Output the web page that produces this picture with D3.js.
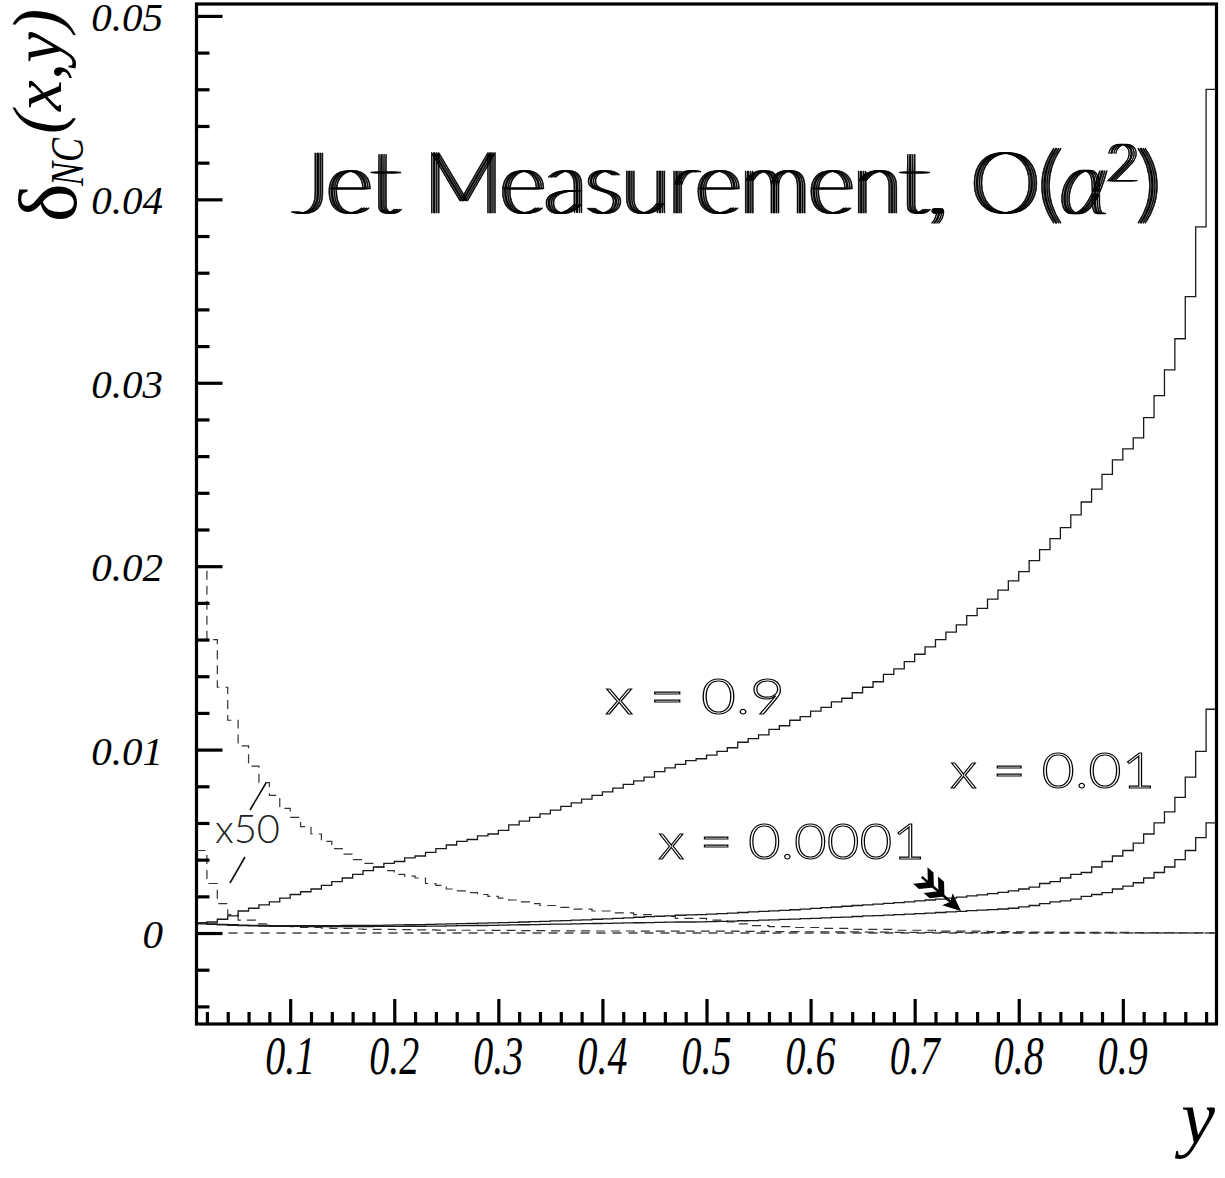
<!DOCTYPE html>
<html>
<head>
<meta charset="utf-8">
<script src="https://cdn.jsdelivr.net/npm/d3@7"></script>
<style>
  body { margin: 0; background: #fff; }
</style>
</head>
<body>
<script>
// histogram bin edges: 98 bins of width 0.01 between y = 0.01 and y = 0.99
const binEdges = d3.range(1, 100).map(k => k / 100);

const xTickLabels = ['0.1', '0.2', '0.3', '0.4', '0.5', '0.6', '0.7', '0.8', '0.9'];
const yTickLabels = ['0', '0.01', '0.02', '0.03', '0.04', '0.05'];

// x = 0.9 (solid)
const curveX09 = [
  0.00055, 0.0006, 0.00075, 0.00093, 0.0012, 0.00135, 0.00153, 0.0017, 0.0019, 0.0021,
  0.00225, 0.0024, 0.0026, 0.0028, 0.0030, 0.0032, 0.0034, 0.0036, 0.0038, 0.0039,
  0.0041, 0.0042, 0.0044, 0.0046, 0.0048, 0.0050, 0.0051, 0.0053, 0.0054, 0.0056,
  0.0059, 0.0061, 0.0063, 0.0065, 0.0067, 0.0069, 0.0071, 0.0073, 0.0075, 0.0077,
  0.0079, 0.0081, 0.0083, 0.0085, 0.0088, 0.0090, 0.0092, 0.0094, 0.0095, 0.0097,
  0.0099, 0.0101, 0.0104, 0.0106, 0.0108, 0.0111, 0.0113, 0.0116, 0.0118, 0.0121,
  0.0123, 0.0126, 0.0128, 0.0131, 0.0134, 0.0137, 0.0141, 0.0144, 0.0148, 0.0152,
  0.0156, 0.0160, 0.0164, 0.0168, 0.0173, 0.0177, 0.0182, 0.0187, 0.0192, 0.0197,
  0.0203, 0.0209, 0.0215, 0.0221, 0.0228, 0.0235, 0.0242, 0.0250, 0.0258, 0.0264,
  0.0270, 0.0281, 0.0293, 0.0307, 0.0324, 0.0347, 0.0385, 0.0460
];

// x = 0.01 (solid)
const curveX001 = [
  0.00055, 0.0005, 0.00047, 0.00045, 0.00043, 0.00042, 0.00041, 0.0004, 0.0004, 0.0004,
  0.0004, 0.0004, 0.0004, 0.0004, 0.00041, 0.00041, 0.00042, 0.00042, 0.00043, 0.00044,
  0.00045, 0.00046, 0.00047, 0.00048, 0.0005, 0.00051, 0.00052, 0.00054, 0.00055, 0.00057,
  0.00058, 0.0006, 0.00062, 0.00064, 0.00066, 0.00068, 0.0007, 0.00072, 0.00075, 0.00077,
  0.0008, 0.00083, 0.00086, 0.00089, 0.00092, 0.00094, 0.00097, 0.00099, 0.0010, 0.00103,
  0.00106, 0.00109, 0.00112, 0.00115, 0.00118, 0.00121, 0.00124, 0.00127, 0.0013, 0.00134,
  0.00138, 0.00142, 0.00146, 0.0015, 0.00154, 0.00158, 0.00162, 0.00166, 0.0017, 0.00175,
  0.0018, 0.00185, 0.0019, 0.00196, 0.00202, 0.00208, 0.00215, 0.00222, 0.0023, 0.0024,
  0.0025, 0.0027, 0.0028, 0.0030, 0.0032, 0.0033, 0.0036, 0.0039, 0.0042, 0.0045,
  0.0049, 0.0054, 0.0060, 0.0066, 0.0074, 0.0085, 0.0099, 0.0122
];

// x = 0.0001 (solid)
const curveX00001 = [
  0.0005, 0.00047, 0.00044, 0.00042, 0.0004, 0.00039, 0.00038, 0.00037, 0.00036, 0.00036,
  0.00035, 0.00035, 0.00035, 0.00035, 0.00035, 0.00035, 0.00035, 0.00036, 0.00036, 0.00036,
  0.00037, 0.00037, 0.00038, 0.00038, 0.00039, 0.0004, 0.0004, 0.00041, 0.00042, 0.00043,
  0.00044, 0.00045, 0.00046, 0.00047, 0.00048, 0.00049, 0.0005, 0.00051, 0.00052, 0.00053,
  0.00054, 0.00055, 0.00056, 0.00057, 0.00058, 0.00059, 0.0006, 0.0006, 0.00061, 0.00062,
  0.00063, 0.00065, 0.00067, 0.00068, 0.0007, 0.00072, 0.00074, 0.00076, 0.00078, 0.0008,
  0.00083, 0.00085, 0.00087, 0.0009, 0.00093, 0.00095, 0.00098, 0.0010, 0.00103, 0.00106,
  0.00109, 0.00112, 0.00115, 0.00118, 0.00122, 0.00125, 0.00128, 0.00131, 0.00135, 0.00143,
  0.0015, 0.0016, 0.0017, 0.00175, 0.00185, 0.0020, 0.0021, 0.0022, 0.0024, 0.00256,
  0.00274, 0.0030, 0.0033, 0.0036, 0.0040, 0.0045, 0.0052, 0.0060
];

// dashed, scaled x50 (upper one)
const dashUpperX50 = [
  0.0200, 0.0160, 0.0134, 0.0116, 0.0102, 0.0091, 0.0082, 0.0075, 0.0068, 0.0063,
  0.0058, 0.0054, 0.0050, 0.0046, 0.0043, 0.0040, 0.0038, 0.0036, 0.0034, 0.0032,
  0.0031, 0.0030, 0.0027, 0.0026, 0.0024, 0.0023, 0.0022, 0.0021, 0.0020, 0.0019,
  0.0018, 0.0017, 0.0016, 0.0015, 0.0015, 0.0014, 0.0013, 0.0013, 0.0012, 0.0012,
  0.0011, 0.0011, 0.0010, 0.0010, 0.0009, 0.0009, 0.0008, 0.0008, 0.0008, 0.0007,
  0.0007, 0.0006, 0.0005, 0.0004, 0.0004, 0.00035, 0.00035, 0.0003, 0.0003, 0.0003,
  0.00025, 0.00025, 0.00025, 0.0002, 0.0002, 0.0002, 0.0002, 0.00015, 0.00015, 0.00015,
  0.00015, 0.0001, 0.0001, 0.0001, 0.0001, 0.0001, 0.00008, 0.00008, 0.00006, 0.00006,
  0.00005, 0.00005, 0.00005, 0.00004, 0.00004, 0.00004, 0.00003, 0.00003, 0.00003, 0.00003,
  0.00002, 0.00002, 0.00002, 0.00002, 0.00001, 0.00001, 0.00001, 0.00001
];

// dashed, scaled x50 (lower one)
const dashLowerX50 = [
  0.0045, 0.0027, 0.0016, 0.0010, 0.0007, 0.0007, 0.0005, 0.0004, 0.0004, 0.00035,
  0.0003, 0.0003, 0.00027, 0.00025, 0.00025, 0.00022, 0.0002, 0.0002, 0.0002, 0.00018,
  0.00018, 0.00017, 0.00017, 0.00016, 0.00016, 0.00015, 0.00015, 0.00015, 0.00014, 0.00014,
  0.00014, 0.00013, 0.00013, 0.00013, 0.00012, 0.00012, 0.00012, 0.00012, 0.00011, 0.00011,
  0.00011, 0.00011, 0.0001, 0.0001, 0.0001, 0.0001, 0.0001, 0.0001, 0.0001, 0.0001,
  0.0001, 0.0001, 0.00009, 0.00009, 0.00009, 0.00008, 0.00008, 0.00008, 0.00007, 0.00007,
  0.00007, 0.00006, 0.00006, 0.00006, 0.00005, 0.00005, 0.00005, 0.00004, 0.00004, 0.00004,
  0.00003, 0.00003, 0.00003, 0.00003, 0.00002, 0.00002, 0.00002, 0.00002, 0.00002, 0.00001,
  0.00001, 0.00001, 0.00001, 0.00001, 0.00001, 0.00001, 0.00001, 0.00001, 0, 0,
  0, 0, 0, 0, 0, 0, 0, 0
];

const curveLabels = [
  { text: 'x = 0.9', x: 605, y: 714, len: 180 },
  { text: 'x = 0.01', x: 950, y: 788, len: 205 },
  { text: 'x = 0.0001', x: 658, y: 859, len: 267 }
];

const width = 1225;
const height = 1178;
const plotLeft = 196.5, plotRight = 1216.5, plotTop = 4, plotBottom = 1024;

const svg = d3.select('body')
  .append('svg')
  .attr('width', width)
  .attr('height', height);

const x = d3.scaleLinear().domain([0.01, 0.99]).range([plotLeft, plotRight]);
const y = d3.scaleLinear().domain([-0.00496, 0.05065]).range([plotBottom, plotTop]);

const defs = svg.append('defs');
defs.append('clipPath')
  .attr('id', 'plot-clip')
  .append('rect')
  .attr('x', plotLeft + 1.5)
  .attr('y', plotTop + 1.5)
  .attr('width', plotRight - plotLeft - 3)
  .attr('height', plotBottom - plotTop - 3);

// repeat a glyph run a few times side by side (hatched look of the title)
const hatch = defs.append('filter')
  .attr('id', 'hatch')
  .attr('x', '-5%').attr('y', '-20%')
  .attr('width', '110%').attr('height', '140%');
const hatchSteps = [1.7, 3.4, 5.1, 6.8];
hatchSteps.forEach((dx, i) => {
  hatch.append('feOffset').attr('in', 'SourceGraphic').attr('dx', dx).attr('dy', 0).attr('result', 'o' + i);
});
const merge = hatch.append('feMerge');
merge.append('feMergeNode').attr('in', 'SourceGraphic');
hatchSteps.forEach((dx, i) => merge.append('feMergeNode').attr('in', 'o' + i));

const plot = svg.append('g').attr('clip-path', 'url(#plot-clip)');

// step line for a histogram
function histPath(values) {
  const pts = values.map((v, i) => [binEdges[i], v]);
  pts.push([binEdges[values.length], values[values.length - 1]]);
  return d3.line()
    .x(d => x(d[0]))
    .y(d => y(d[1]))
    .curve(d3.curveStepAfter)(pts);
}

// zero line (dashed)
plot.append('line')
  .attr('x1', x(0.01))
  .attr('x2', x(0.99))
  .attr('y1', y(0))
  .attr('y2', y(0))
  .attr('stroke', '#444')
  .attr('stroke-width', 1.3)
  .attr('stroke-dasharray', '9 7');

[dashUpperX50, dashLowerX50].forEach(vals => {
  plot.append('path')
    .attr('d', histPath(vals))
    .attr('fill', 'none')
    .attr('stroke', '#333')
    .attr('stroke-width', 1.2)
    .attr('stroke-dasharray', '9 6');
});

[curveX09, curveX001, curveX00001].forEach(vals => {
  plot.append('path')
    .attr('d', histPath(vals))
    .attr('fill', 'none')
    .attr('stroke', '#1a1a1a')
    .attr('stroke-width', 1.3);
});

// ticks, drawn inside the frame
const yMajor = yTickLabels.map(Number);
const yMinor = d3.range(-4, 51, 2).map(k => k / 1000).filter(v => !yMajor.some(m => Math.abs(m - v) < 1e-9));
const xMajor = xTickLabels.map(Number);
const xMinor = d3.range(2, 99, 2).map(k => k / 100).filter(v => !xMajor.some(m => Math.abs(m - v) < 1e-9));

function tickAxis(axis, transform, values, size) {
  const g = svg.append('g')
    .attr('transform', transform)
    .call(axis.tickValues(values).tickSize(size).tickFormat(''));
  g.select('.domain').remove();
  g.selectAll('line').attr('stroke', '#000').attr('stroke-width', 3.2);
}
tickAxis(d3.axisLeft(y), `translate(${plotLeft},0)`, yMinor, -13);
tickAxis(d3.axisLeft(y), `translate(${plotLeft},0)`, yMajor, -26);
tickAxis(d3.axisBottom(x), `translate(0,${plotBottom})`, xMinor, -12);
tickAxis(d3.axisBottom(x), `translate(0,${plotBottom})`, xMajor, -25);

// frame
svg.append('rect')
  .attr('x', plotLeft)
  .attr('y', plotTop)
  .attr('width', plotRight - plotLeft)
  .attr('height', plotBottom - plotTop)
  .attr('fill', 'none')
  .attr('stroke', '#000')
  .attr('stroke-width', 3.2);

// tick labels
svg.selectAll('.ylab')
  .data(yTickLabels)
  .join('text')
  .attr('class', 'ylab')
  .attr('x', 163)
  .attr('y', d => y(+d) + 15)
  .attr('text-anchor', 'end')
  .style('font-family', '"Liberation Serif", "Times New Roman", serif')
  .style('font-style', 'italic')
  .style('font-size', '41px')
  .text(d => d);

svg.selectAll('.xlab')
  .data(xTickLabels)
  .join('text')
  .attr('class', 'xlab')
  .attr('transform', d => `translate(${x(+d)},1074) scale(0.74,1)`)
  .attr('text-anchor', 'middle')
  .style('font-family', '"Liberation Serif", "Times New Roman", serif')
  .style('font-style', 'italic')
  .style('font-size', '54px')
  .text(d => d);

// axis titles
svg.append('text')
  .attr('x', 1215)
  .attr('y', 1143)
  .attr('text-anchor', 'end')
  .style('font-family', '"Liberation Serif", "Times New Roman", serif')
  .style('font-style', 'italic')
  .style('font-size', '76px')
  .text('y');

const yTitle = svg.append('g')
  .attr('transform', 'translate(76,222) rotate(-90)')
  .style('font-family', '"Liberation Serif", "Times New Roman", serif');
yTitle.append('text')
  .attr('x', 0)
  .attr('y', 0)
  .style('font-size', '82px')
  .text('δ');
yTitle.append('text')
  .attr('x', 36)
  .attr('y', 7)
  .attr('textLength', 48)
  .attr('lengthAdjust', 'spacingAndGlyphs')
  .style('font-size', '46px')
  .style('font-style', 'italic')
  .text('NC');
yTitle.append('text')
  .attr('x', 88)
  .attr('y', -15)
  .attr('textLength', 125)
  .attr('lengthAdjust', 'spacingAndGlyphs')
  .style('font-size', '70px')
  .style('font-style', 'italic')
  .text('(x,y)');

// title, thin glyphs repeated by the hatch filter
const title = svg.append('text')
  .attr('x', 290)
  .attr('y', 213)
  .attr('textLength', 866)
  .attr('lengthAdjust', 'spacingAndGlyphs')
  .attr('fill', '#000')
  .attr('stroke', '#000')
  .attr('stroke-width', 0.6)
  .attr('filter', 'url(#hatch)')
  .style('font-family', 'Lato, "Liberation Sans", sans-serif')
  .style('font-weight', 200)
  .style('font-size', '86px');
title.append('tspan').text('Jet Measurement, O(');
title.append('tspan').style('font-style', 'italic').text('α');
title.append('tspan').attr('dy', -32).style('font-size', '52px').text('2');
title.append('tspan').attr('dy', 32).text(')');

// curve labels, hollow glyphs
svg.selectAll('.clab')
  .data(curveLabels)
  .join('text')
  .attr('class', 'clab')
  .attr('x', d => d.x)
  .attr('y', d => d.y)
  .attr('textLength', d => d.len)
  .attr('lengthAdjust', 'spacingAndGlyphs')
  .attr('fill', '#fff')
  .attr('stroke', '#000')
  .attr('stroke-width', 1.1)
  .style('font-family', 'Lato, "Liberation Sans", sans-serif')
  .style('font-weight', 300)
  .style('font-size', '50px')
  .text(d => d.text);

// x50 note with its two pointer strokes
svg.append('text')
  .attr('x', 215)
  .attr('y', 843)
  .attr('textLength', 65)
  .attr('lengthAdjust', 'spacingAndGlyphs')
  .attr('fill', '#222')
  .style('font-family', 'Lato, "Liberation Sans", sans-serif')
  .style('font-weight', 300)
  .style('font-size', '40px')
  .text('x50');
svg.append('line')
  .attr('x1', 266).attr('y1', 783).attr('x2', 250).attr('y2', 810)
  .attr('stroke', '#111').attr('stroke-width', 1.6);
svg.append('line')
  .attr('x1', 245).attr('y1', 857).attr('x2', 230).attr('y2', 883)
  .attr('stroke', '#111').attr('stroke-width', 1.6);

// feathered arrow pointing at the x = 0.0001 curve
const arrow = svg.append('g')
  .attr('transform', 'translate(961,911) rotate(41)');
arrow.append('line')
  .attr('x1', -14).attr('y1', 0).attr('x2', -52).attr('y2', 0)
  .attr('stroke', '#000').attr('stroke-width', 2.5);
arrow.append('path')
  .attr('d', 'M0,0 L-18,-8 L-14,0 L-18,8 Z')
  .attr('fill', '#000');
[22, 36].forEach(a => {
  arrow.append('path')
    .attr('d', `M${-a},0 L${-a - 10},-11 L${-a - 18},-11 L${-a - 8},0 L${-a - 18},11 L${-a - 10},11 Z`)
    .attr('fill', '#000');
});
</script>
</body>
</html>
